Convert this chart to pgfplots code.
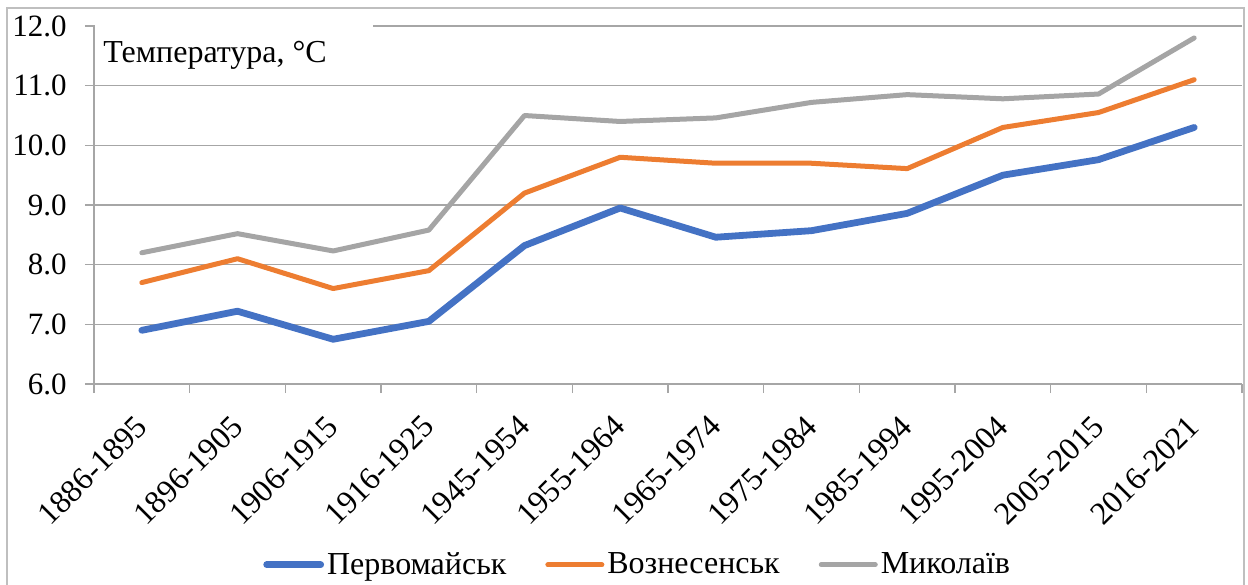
\documentclass[border=0pt]{standalone}
\usepackage{fontspec}
\setmainfont{Liberation Serif}
\usepackage{pgfplots}
\usepackage{pgfplotstable}
\pgfplotsset{compat=1.18}
\definecolor{sBlue}{HTML}{4472C4}
\definecolor{sOrange}{HTML}{ED7D31}
\definecolor{sGray}{HTML}{A5A5A5}
\definecolor{gridgray}{RGB}{166,166,166}
\definecolor{framegray}{RGB}{191,191,191}

% one row per period; columns = stations
\pgfplotstableread{
x  perv   vozn   myk
0  6.90   7.70   8.20
1  7.22   8.10   8.52
2  6.75   7.60   8.23
3  7.05   7.90   8.58
4  8.32   9.20   10.50
5  8.95   9.80   10.40
6  8.46   9.70   10.46
7  8.57   9.70   10.72
8  8.86   9.61   10.85
9  9.50   10.30  10.78
10 9.76   10.55  10.86
11 10.30  11.10  11.80
}\tempdata

\begin{document}
\begin{tikzpicture}
\draw[framegray, line width=0.75pt] (3.5pt,-4pt) rectangle (622pt,-300pt);
\begin{axis}[
    at={(47pt,-192pt)}, anchor=south west,
    scale only axis, width=574pt, height=179pt,
    xmin=-0.5, xmax=11.5, ymin=6, ymax=12,
    xtick={-0.5,0.5,...,11.5},
    x tick label as interval,
    xticklabels={1886-1895,1896-1905,1906-1915,1916-1925,1945-1954,1955-1964,1965-1974,1975-1984,1985-1994,1995-2004,2005-2015,2016-2021},
    ytick={6,7,...,12},
    axis x line*=bottom, axis y line*=left,
    xtick pos=bottom, ytick pos=left,
    tick align=outside, major tick length=4.5pt,
    axis line style={gridgray, line width=0.75pt},
    every tick/.style={gridgray, line width=0.75pt},
    ymajorgrids, grid style={gridgray, line width=0.75pt},
    /pgf/number format/assume math mode=true,
    /pgf/number format/fixed, /pgf/number format/fixed zerofill, /pgf/number format/precision=1,
    y tick label style={font=\fontsize{15.5}{18}\selectfont, anchor=east, inner sep=0pt, xshift=-9pt},
    x tick label style={font=\fontsize{16}{19}\selectfont, inner sep=0pt, yshift=-14pt, rotate=45, anchor=east},
    clip=false,
    legend columns=3,
    legend style={draw=none, fill=none, at={(axis description cs:0.474,-0.505)}, anchor=center,
        font=\fontsize{16}{19}\selectfont,
        nodes={inner xsep=1.5pt, inner ysep=0pt},
        /tikz/every even column/.append style={column sep=18pt}},
    legend image code/.code={\draw[#1, line cap=round] (0pt,0pt) -- (27pt,0pt);},
]
\addplot[sBlue, line width=3.4pt, line cap=round, line join=round] table[x=x, y=perv] {\tempdata};
\addlegendentry{Первомайськ}
\addplot[sOrange, line width=2.5pt, line cap=round, line join=round] table[x=x, y=vozn] {\tempdata};
\addlegendentry{Вознесенськ}
\addplot[sGray, line width=2.5pt, line cap=round, line join=round] table[x=x, y=myk] {\tempdata};
\addlegendentry{Миколаїв}
\end{axis}
\fill[white] (47.6pt,-9pt) rectangle (186.5pt,-18pt);
\node[anchor=base west, inner sep=0pt, font=\fontsize{16}{19}\selectfont] at (51.5pt,-31pt) {Температура, °C};
\pgfresetboundingbox
\path[use as bounding box] (0,0) rectangle (624pt,-292pt);
\end{tikzpicture}
\end{document}
